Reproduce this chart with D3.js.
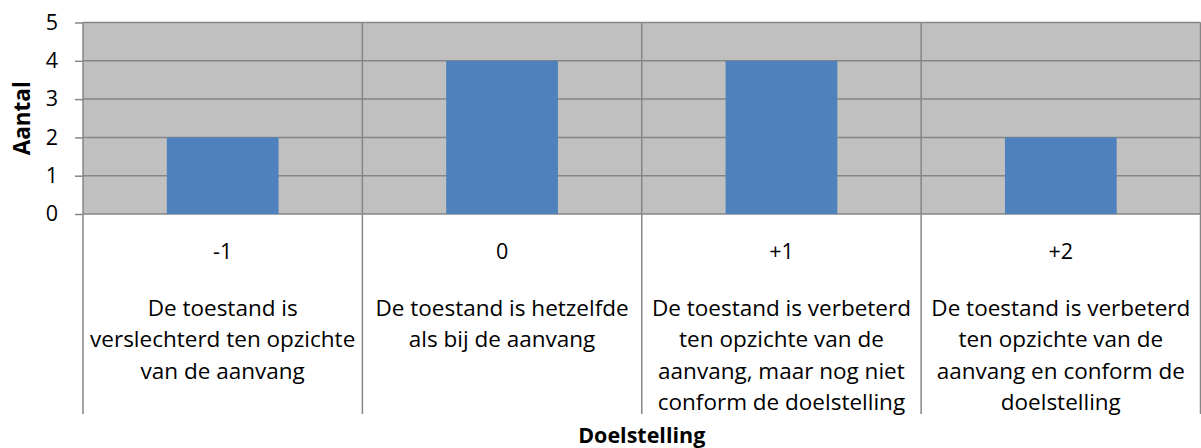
<!DOCTYPE html>
<html>
<head>
<meta charset="utf-8">
<script src="https://cdn.jsdelivr.net/npm/d3@7"></script>
<style>
  body { margin: 0; background: #fff; }
  text { font-family: "Open Sans", "Noto Sans", sans-serif; fill: #000; }
</style>
</head>
<body>
<div id="chart"></div>
<script>
// category codes under the axis
const codes = ["-1", "0", "+1", "+2"];
// description lines per category
const descriptions = [
  ["De toestand is", "verslechterd ten opzichte", "van de aanvang"],
  ["De toestand is hetzelfde", "als bij de aanvang"],
  ["De toestand is verbeterd", "ten opzichte van de", "aanvang, maar nog niet", "conform de doelstelling"],
  ["De toestand is verbeterd", "ten opzichte van de", "aanvang en conform de", "doelstelling"]
];
// number of items per category
const counts = [2, 4, 4, 2];
const yTicks = [0, 1, 2, 3, 4, 5];
const yTitle = "Aantal";
const xTitle = "Doelstelling";

const W = 1201, H = 448;
const margin = {top: 22.5, right: 0.5, bottom: 234, left: 83};
const plotW = W - margin.left - margin.right;
const plotH = H - margin.top - margin.bottom;

const svg = d3.select("#chart").append("svg")
    .attr("width", W)
    .attr("height", H);

const g = svg.append("g")
    .attr("transform", "translate(" + margin.left + "," + margin.top + ")");

const xScale = d3.scaleBand().domain(codes).range([0, plotW]).padding(0);
const yScale = d3.scaleLinear().domain([0, 5]).range([plotH, 0]);

// plot background
g.append("rect")
    .attr("x", 0).attr("y", 0)
    .attr("width", plotW).attr("height", plotH)
    .attr("fill", "#c0c0c0");

// horizontal grid
g.append("g").selectAll("line")
    .data(yTicks)
    .join("line")
    .attr("x1", 0).attr("x2", plotW)
    .attr("y1", d => yScale(d)).attr("y2", d => yScale(d))
    .attr("stroke", "#868686")
    .attr("stroke-width", 1.5);

// vertical category separators (grid + extension below axis)
const sepX = codes.map(c => xScale(c)).concat([plotW]);
g.append("g").selectAll("line")
    .data(sepX)
    .join("line")
    .attr("x1", d => d).attr("x2", d => d)
    .attr("y1", 0).attr("y2", 414 - margin.top)
    .attr("stroke", "#868686")
    .attr("stroke-width", 1.5);

// bars
const barW = xScale.bandwidth() * 0.4;
g.append("g").selectAll("rect")
    .data(counts)
    .join("rect")
    .attr("x", (d, i) => xScale(codes[i]) + (xScale.bandwidth() - barW) / 2)
    .attr("y", d => yScale(d))
    .attr("width", barW)
    .attr("height", d => yScale(0) - yScale(d))
    .attr("fill", "#4f81bd");

// y axis
const yAxis = g.append("g")
    .call(d3.axisLeft(yScale).tickValues(yTicks).tickSize(8).tickPadding(17).tickFormat(d3.format("d")));
yAxis.select(".domain").remove();
yAxis.selectAll(".tick line").attr("stroke", "#868686").attr("stroke-width", 1.5);
yAxis.selectAll(".tick text")
    .style("font-size", "21.5px")
    .style("font-family", "'Open Sans', sans-serif")
    .attr("fill", "#000");

// category labels
const labelsG = g.append("g");
codes.forEach((c, i) => {
    const cx = xScale(c) + xScale.bandwidth() / 2;
    labelsG.append("text")
        .attr("x", cx)
        .attr("y", 259 - margin.top)
        .attr("text-anchor", "middle")
        .style("font-size", "21.5px")
        .text(c);
    descriptions[i].forEach((line, j) => {
        labelsG.append("text")
            .attr("x", cx)
            .attr("y", 316 - margin.top + j * 31.3)
            .attr("text-anchor", "middle")
            .style("font-size", "22.5px")
            .text(line);
    });
});

// axis titles
svg.append("text")
    .attr("x", margin.left + plotW / 2)
    .attr("y", 443)
    .attr("text-anchor", "middle")
    .style("font-size", "21.5px")
    .style("font-weight", "bold")
    .text(xTitle);

svg.append("text")
    .attr("transform", "translate(30," + (margin.top + plotH / 2) + ") rotate(-90)")
    .attr("text-anchor", "middle")
    .style("font-size", "22.5px")
    .style("font-weight", "bold")
    .text(yTitle);
</script>
</body>
</html>
